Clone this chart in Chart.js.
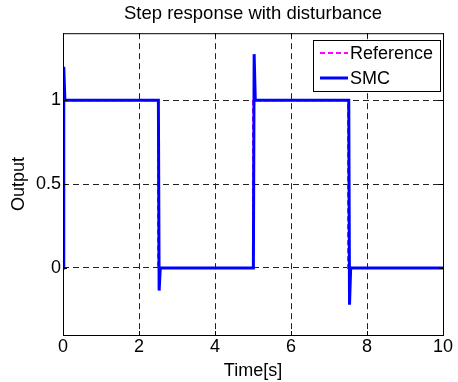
<!DOCTYPE html>
<html>
<head>
<meta charset="utf-8">
<script src="https://cdn.jsdelivr.net/npm/chart.js@4"></script>
<style>
  html, body { margin: 0; padding: 0; background: #fff; }
  #wrap { width: 458px; height: 382px; }
</style>
</head>
<body>
<div id="wrap"><canvas id="chart"></canvas></div>
<script>
// ---- data ----
const refTime = [0, 0, 2.5, 2.5, 5, 5, 7.5, 7.5, 10];
const refOutput = [0, 1, 1, 0, 0, 1, 1, 0, 0];

const smcTime = [0, 0.02, 0.05, 2.51, 2.53, 2.56, 5.01, 5.03, 5.06, 7.52, 7.54, 7.57, 10];
const smcOutput = [0, 1.2, 1, 1, -0.135, 0, 0, 1.275, 1, 1, -0.22, 0, 0];

const xTicks = [0, 2, 4, 6, 8, 10];
const yTicks = [0, 0.5, 1];

const FONT = '"Liberation Sans", Arial, sans-serif';

function toPoints(xs, ys) {
    return xs.map((x, i) => ({ x: x, y: ys[i] }));
}

// box, inward ticks and legend like the matlab figure
const framePlugin = {
    id: 'frame',
    afterDatasetsDraw(chart) {
        const { ctx, chartArea: a, scales } = chart;
        ctx.save();
        ctx.strokeStyle = '#000';
        ctx.lineWidth = 1;
        ctx.setLineDash([]);
        ctx.strokeRect(a.left + 0.5, a.top + 0.5, a.right - a.left, a.bottom - a.top);

        ctx.beginPath();
        xTicks.forEach(v => {
            const px = Math.round(scales.x.getPixelForValue(v)) + 0.5;
            ctx.moveTo(px, a.bottom); ctx.lineTo(px, a.bottom - 4);
            ctx.moveTo(px, a.top); ctx.lineTo(px, a.top + 4);
        });
        yTicks.forEach(v => {
            const py = Math.round(scales.y.getPixelForValue(v)) + 0.5;
            ctx.moveTo(a.left, py); ctx.lineTo(a.left + 4, py);
            ctx.moveTo(a.right, py); ctx.lineTo(a.right - 4, py);
        });
        ctx.stroke();

        // legend
        const bx = 313, by = 40, bw = 127, bh = 51;
        ctx.fillStyle = '#fff';
        ctx.fillRect(bx, by, bw, bh);
        ctx.strokeRect(bx + 0.5, by + 0.5, bw, bh);
        ctx.font = '18px ' + FONT;
        ctx.textBaseline = 'middle';
        chart.data.datasets.forEach((ds, i) => {
            const y = by + 13 + i * 25;
            ctx.strokeStyle = ds.borderColor;
            ctx.lineWidth = ds.borderWidth;
            ctx.setLineDash(ds.borderDash || []);
            ctx.beginPath();
            ctx.moveTo(bx + 7, y);
            ctx.lineTo(bx + 35, y);
            ctx.stroke();
            ctx.fillStyle = '#000';
            ctx.fillText(ds.label, bx + 37, y + 1);
        });
        ctx.restore();
    }
};

new Chart(document.getElementById('chart'), {
    type: 'line',
    data: {
        datasets: [
            {
                label: 'Reference',
                data: toPoints(refTime, refOutput),
                borderColor: '#ff00ff',
                borderWidth: 2,
                borderDash: [5, 3],
                pointRadius: 0,
                tension: 0,
                order: 2
            },
            {
                label: 'SMC',
                data: toPoints(smcTime, smcOutput),
                borderColor: '#0000ff',
                borderWidth: 3,
                pointRadius: 0,
                tension: 0,
                order: 1
            }
        ]
    },
    options: {
        responsive: true,
        maintainAspectRatio: false,
        animation: false,
        layout: { padding: { left: 0, right: 15, top: 0, bottom: 0 } },
        plugins: {
            legend: { display: false },
            tooltip: { enabled: false },
            title: {
                display: true,
                fullSize: false,
                text: 'Step response with disturbance',
                color: '#000',
                font: { family: FONT, size: 18.5, weight: 'normal' },
                padding: { top: 3, bottom: 8 }
            }
        },
        scales: {
            x: {
                type: 'linear',
                min: 0,
                max: 10,
                afterBuildTicks: s => { s.ticks = xTicks.map(v => ({ value: v })); },
                afterFit: s => { s.height = 47; },
                ticks: {
                    color: '#000',
                    font: { family: FONT, size: 18 },
                    padding: 1,
                    maxRotation: 0
                },
                grid: {
                    color: '#222',
                    lineWidth: 1,
                    drawTicks: false
                },
                border: { display: false, dash: [6, 4] },
                title: {
                    display: true,
                    text: 'Time[s]',
                    color: '#000',
                    font: { family: FONT, size: 18 },
                    padding: { top: 0, bottom: 0 }
                }
            },
            y: {
                type: 'linear',
                min: -0.4,
                max: 1.4,
                afterBuildTicks: s => { s.ticks = yTicks.map(v => ({ value: v })); },
                afterFit: s => { s.width = 63; },
                ticks: {
                    color: '#000',
                    font: { family: FONT, size: 18 },
                    padding: 2,
                    callback: v => String(v)
                },
                grid: {
                    color: '#222',
                    lineWidth: 1,
                    drawTicks: false
                },
                border: { display: false, dash: [6, 4] },
                title: {
                    display: true,
                    text: 'Output',
                    color: '#000',
                    font: { family: FONT, size: 18 },
                    padding: { top: 8, bottom: 0 }
                }
            }
        }
    },
    plugins: [framePlugin]
});
</script>
</body>
</html>
